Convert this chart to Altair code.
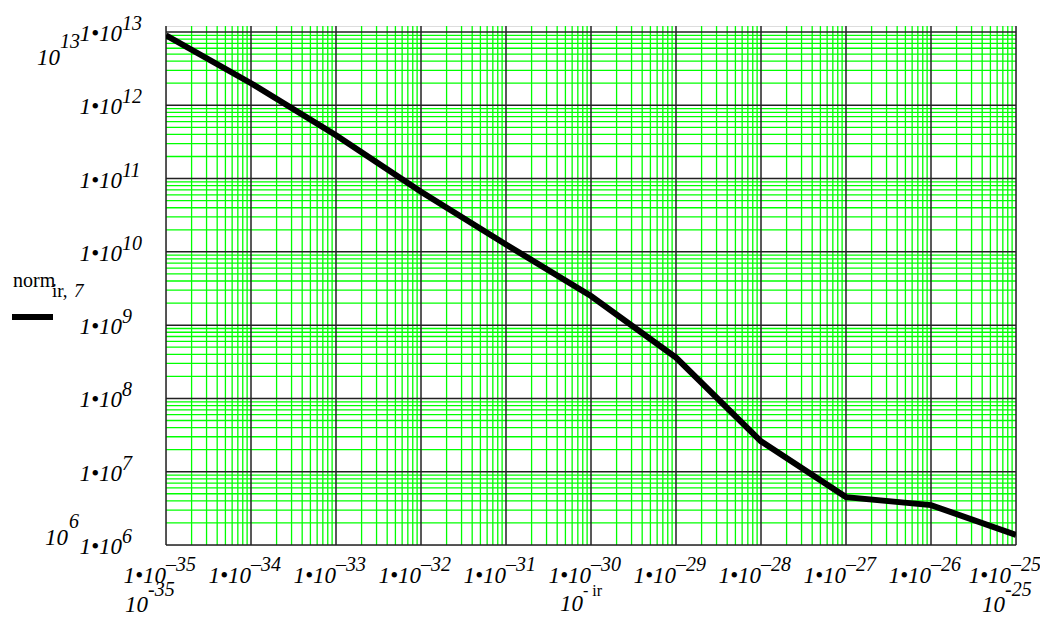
import altair as alt
import pandas as pd

# ---- data ----
x_exponents = [-35, -34, -33, -32, -31, -30, -29, -28, -27, -26, -25]
norm_ir7 = [9.0e12, 2.0e12, 3.9e11, 6.6e10, 1.26e10, 2.5e9, 3.6e8, 2.6e7, 4.5e6, 3.5e6, 1.37e6]
y_exponents = [6, 7, 8, 9, 10, 11, 12, 13]
minor_multipliers = [2, 3, 4, 5, 6, 7, 8, 9]

x_vals = [10.0 ** e for e in x_exponents]
curve = pd.DataFrame({"x": x_vals, "y": norm_ir7})

x_major = pd.DataFrame({"v": x_vals})
x_minor = pd.DataFrame({"v": [m * 10.0 ** e for e in x_exponents[:-1] for m in minor_multipliers]})
y_major = pd.DataFrame({"v": [10.0 ** e for e in y_exponents]})
y_minor = pd.DataFrame({"v": [m * 10.0 ** e for e in y_exponents[:-1] for m in minor_multipliers]})

x_lab = pd.DataFrame({"v": x_vals, "base": ["1\u202210"] * len(x_vals),
                      "exp": ["\u2013%d" % (-e) for e in x_exponents]})
y_lab = pd.DataFrame({"v": [10.0 ** e for e in y_exponents], "base": ["1\u202210"] * len(y_exponents),
                      "exp": [str(e) for e in y_exponents]})

FONT = "Liberation Serif"
W, H = 850, 519
xs = alt.Scale(type="log", domain=[1e-35, 1e-25], nice=False)
ys = alt.Scale(type="log", domain=[1e6, 1.207e13], nice=False)
noax = None


def X(field="v"):
    return alt.X(f"{field}:Q", scale=xs, axis=noax)


def Y(field="v"):
    return alt.Y(f"{field}:Q", scale=ys, axis=noax)


minor_x = alt.Chart(x_minor).mark_rule(color="#00ff00", strokeWidth=1.3).encode(x=X())
minor_y = alt.Chart(y_minor).mark_rule(color="#00ff00", strokeWidth=1.3).encode(y=Y())
major_x = alt.Chart(x_major).mark_rule(color="#222222", strokeWidth=1.5).encode(x=X())
major_y = alt.Chart(y_major).mark_rule(color="#222222", strokeWidth=1.5).encode(y=Y())

line = alt.Chart(curve).mark_line(color="black", strokeWidth=6, clip=True).encode(
    x=X("x"), y=Y("y"))

base_style = dict(font=FONT, fontStyle="italic", color="black")

x_lab_main = x_lab.iloc[:-1]
x_lab_last = x_lab.iloc[-1:]

xl_base = alt.Chart(x_lab_main).mark_text(align="right", baseline="alphabetic", fontSize=23, **base_style).encode(
    x=X(), y=alt.value(557), text="base:N")
xl_exp = alt.Chart(x_lab_main).mark_text(align="left", baseline="alphabetic", fontSize=20, **base_style).encode(
    x=X(), y=alt.value(545), text="exp:N")
xl_base_last = alt.Chart(x_lab_last).mark_text(align="right", baseline="alphabetic", fontSize=23, dx=-5,
                                               **base_style).encode(x=X(), y=alt.value(557), text="base:N")
xl_exp_last = alt.Chart(x_lab_last).mark_text(align="left", baseline="alphabetic", fontSize=20, dx=-5,
                                              **base_style).encode(x=X(), y=alt.value(545), text="exp:N")

yl_base = alt.Chart(y_lab).mark_text(align="right", baseline="alphabetic", fontSize=23, dy=9, **base_style).encode(
    y=Y(), x=alt.value(-44), text="base:N")
yl_exp = alt.Chart(y_lab).mark_text(align="left", baseline="alphabetic", fontSize=20, dy=-2, **base_style).encode(
    y=Y(), x=alt.value(-44), text="exp:N")

one = pd.DataFrame({"a": [0]})


def note(text, x, y, size, align, italic=True, **kw):
    style = dict(font=FONT, color="black", fontSize=size, align=align, baseline="alphabetic")
    if italic:
        style["fontStyle"] = "italic"
    return alt.Chart(one).mark_text(text=text, **style, **kw).encode(x=x, y=y)


ymax_d = alt.datum(1e13, type="quantitative", scale=ys)
ymin_d = alt.datum(1e6, type="quantitative", scale=ys)
xmin_d = alt.datum(1e-35, type="quantitative", scale=xs)
xmax_d = alt.datum(1e-25, type="quantitative", scale=xs)
xmid_d = alt.datum(1e-30, type="quantitative", scale=xs)

notes = [
    note("10", alt.value(-106), ymax_d, 23, "right", dy=33),
    note("13", alt.value(-106), ymax_d, 20, "left", dy=16),
    note("10", alt.value(-98), ymin_d, 23, "right", dy=0),
    note("6", alt.value(-97), ymin_d, 20, "left", dy=-17),
    note("10", xmin_d, alt.value(586), 23, "right", dx=-18),
    note("-35", xmin_d, alt.value(570), 20, "left", dx=-18),
    note("10", xmax_d, alt.value(586), 23, "right", dx=-11),
    note("-25", xmax_d, alt.value(570), 20, "left", dx=-11),
    note("10", xmid_d, alt.value(585), 23, "right", dx=-8),
    note("- ir", xmid_d, alt.value(570), 16, "left", italic=False, dx=-8),
    note("norm", alt.value(-153), alt.value(261), 20, "left", italic=False),
    note("ir,", alt.value(-114), alt.value(271), 19, "left", italic=False),
    note("7", alt.value(-92), alt.value(271), 19, "left", italic=True),
]

legend_line = alt.Chart(one).mark_rule(color="black", strokeWidth=6).encode(
    x=alt.value(-154), x2=alt.value(-113), y=alt.value(291))

chart = alt.layer(
    minor_x, minor_y, major_x, major_y, line,
    xl_base, xl_exp, xl_base_last, xl_exp_last, yl_base, yl_exp, legend_line, *notes
).properties(
    width=W, height=H,
    padding={"left": 158, "top": 18, "right": 24, "bottom": 70},
    autosize="none",
).configure_view(stroke="black", strokeWidth=2).configure(background="white")

chart.save("out.html", embed_options={"renderer": "svg", "actions": False})
